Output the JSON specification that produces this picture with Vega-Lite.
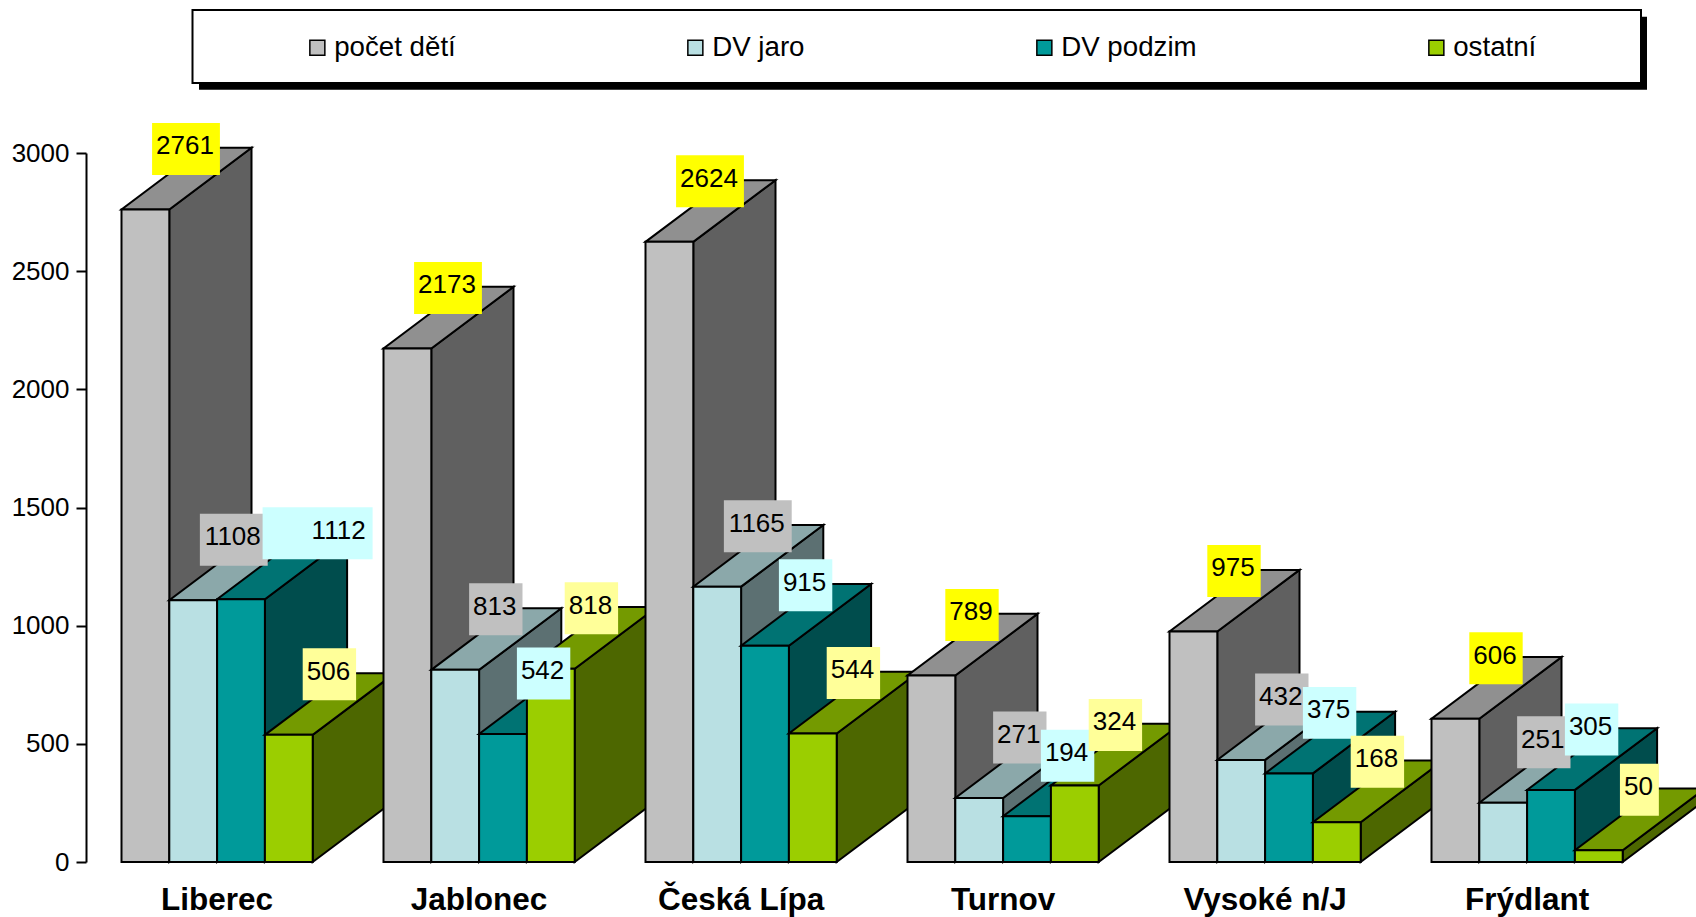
{
"$schema":"https://vega.github.io/schema/vega-lite/v6.json",
"width":1610,"height":709,
"autosize":{"type":"none"},
"padding":{"left":86,"top":153,"right":0,"bottom":55},
"background":"white",
"config":{"view":{"stroke":null},"font":"Liberation Sans"},
"data":{"values":[
{"city":"Liberec","series":"počet dětí","value":2761,"label":2761},
{"city":"Liberec","series":"DV jaro","value":1108,"label":1108},
{"city":"Liberec","series":"DV podzim","value":1112,"label":1112},
{"city":"Liberec","series":"ostatní","value":538,"label":506},
{"city":"Jablonec","series":"počet dětí","value":2173,"label":2173},
{"city":"Jablonec","series":"DV jaro","value":813,"label":813},
{"city":"Jablonec","series":"DV podzim","value":542,"label":542},
{"city":"Jablonec","series":"ostatní","value":818,"label":818},
{"city":"Česká Lípa","series":"počet dětí","value":2624,"label":2624},
{"city":"Česká Lípa","series":"DV jaro","value":1165,"label":1165},
{"city":"Česká Lípa","series":"DV podzim","value":915,"label":915},
{"city":"Česká Lípa","series":"ostatní","value":544,"label":544},
{"city":"Turnov","series":"počet dětí","value":789,"label":789},
{"city":"Turnov","series":"DV jaro","value":271,"label":271},
{"city":"Turnov","series":"DV podzim","value":194,"label":194},
{"city":"Turnov","series":"ostatní","value":324,"label":324},
{"city":"Vysoké n/J","series":"počet dětí","value":975,"label":975},
{"city":"Vysoké n/J","series":"DV jaro","value":432,"label":432},
{"city":"Vysoké n/J","series":"DV podzim","value":375,"label":375},
{"city":"Vysoké n/J","series":"ostatní","value":168,"label":168},
{"city":"Frýdlant","series":"počet dětí","value":606,"label":606},
{"city":"Frýdlant","series":"DV jaro","value":251,"label":251},
{"city":"Frýdlant","series":"DV podzim","value":305,"label":305},
{"city":"Frýdlant","series":"ostatní","value":50,"label":50}
]},
"transform":[
{"calculate":"indexof(['Liberec','Jablonec','Česká Lípa','Turnov','Vysoké n/J','Frýdlant'],datum.city)","as":"ci"},
{"calculate":"indexof(['počet dětí','DV jaro','DV podzim','ostatní'],datum.series)","as":"si"},
{"calculate":"35.5+datum.ci*262+datum.si*47.8","as":"x0"}
],
"encoding":{},
"layer":[
{"data":{"values":[{}]},"transform":[],"mark":{"type":"rect","fill":"black"},
 "encoding":{"x":{"datum":113,"type":"quantitative","scale":{"domain":[0,1610],"nice":false,"zero":false},"axis":null},"x2":{"datum":1561},"y":{"datum":3577,"type":"quantitative","scale":{"domain":[0,3000],"nice":false},
 "axis":{"values":[0,500,1000,1500,2000,2500,3000],"format":"d","title":null,"grid":false,"tickSize":10,"tickWidth":2,"tickColor":"black","domainColor":"black","domainWidth":2,"labelFont":"Liberation Sans","labelFontSize":26,"labelColor":"black","labelPadding":7}},"y2":{"datum":3268}}},
{"data":{"values":[{}]},"transform":[],"mark":{"type":"rect","fill":"white","stroke":"black","strokeWidth":2},
 "encoding":{"x":{"datum":106.5,"type":"quantitative"},"x2":{"datum":1555},"y":{"datum":3605,"type":"quantitative"},"y2":{"datum":3296}}},
{"transform":[
 {"calculate":"['side','top','front']","as":"face"},{"flatten":["face"]},
 {"calculate":"[0,1,2,3]","as":"corner"},{"flatten":["corner"]},
 {"calculate":"datum.x0+47.8","as":"x1"},
 {"calculate":"datum.face=='front'?[datum.x0,datum.x1,datum.x1,datum.x0][datum.corner]:datum.face=='side'?[datum.x1,datum.x1+82.2,datum.x1+82.2,datum.x1][datum.corner]:[datum.x0,datum.x1,datum.x1+82.2,datum.x0+82.2][datum.corner]","as":"px"},
 {"calculate":"datum.face=='front'?[0,0,datum.value,datum.value][datum.corner]:datum.face=='side'?[0,261,datum.value+261,datum.value][datum.corner]:[datum.value,datum.value,datum.value+261,datum.value+261][datum.corner]","as":"py"},
 {"calculate":"datum.face=='front'?datum.series:datum.series+' '+datum.face","as":"shade"},
 {"calculate":"datum.city+'|'+datum.series+'|'+datum.face","as":"poly"}
 ],
 "mark":{"type":"line","filled":true,"interpolate":"linear-closed","stroke":"black","strokeWidth":2,"strokeJoin":"miter"},
 "encoding":{
  "x":{"field":"px","type":"quantitative"},
  "y":{"field":"py","type":"quantitative"},
  "detail":{"field":"poly"},
  "order":{"field":"corner","type":"quantitative"},
  "fill":{"field":"shade","type":"nominal",
   "scale":{"domain":["počet dětí","DV jaro","DV podzim","ostatní","počet dětí top","DV jaro top","DV podzim top","ostatní top","počet dětí side","DV jaro side","DV podzim side","ostatní side"],
    "range":["#C0C0C0","#B9E0E3","#009A9A","#9BCE00","#909090","#8BA8AA","#007373","#749A00","#606060","#5C7072","#004D4D","#4D6700"]},
   "legend":{"values":["počet dětí","DV jaro","DV podzim","ostatní"],"orient":"none","legendX":217.5,"legendY":-119,"direction":"horizontal","columns":4,"gridAlign":"none","columnPadding":225,"title":null,"symbolType":"square","symbolSize":225,"symbolStrokeColor":"black","symbolStrokeWidth":1.5,"labelFont":"Liberation Sans","labelFontSize":27.7,"labelColor":"black","labelOffset":3,"labelLimit":300,"padding":0}}
 }},
{"transform":[{"calculate":"length(''+datum.label)*14.46+10","as":"bw"},
 {"calculate":"datum.x0+64.5+(datum.label==1112?36:0)-(datum.label==1112?55:datum.bw/2)","as":"bx0"},
 {"calculate":"datum.x0+64.5+(datum.label==1112?36:0)+(datum.label==1112?55:datum.bw/2)","as":"bx1"},
 {"calculate":"datum.value+256+(datum.label==1112?23:0)+110","as":"by1"},{"calculate":"datum.value+256+(datum.label==1112?23:0)-110","as":"by0"}],
 "mark":{"type":"rect"},
 "encoding":{"x":{"field":"bx0","type":"quantitative"},"x2":{"field":"bx1"},"y":{"field":"by0","type":"quantitative"},"y2":{"field":"by1"},
  "fill":{"field":"series","type":"nominal","scale":{"domain":["počet dětí","DV jaro","DV podzim","ostatní"],"range":["#FFFF00","#C0C0C0","#CCFFFF","#FFFF99"]},"legend":null}}},
{"transform":[{"calculate":"datum.x0+63.5+(datum.label==1112?58:0)","as":"tx"},{"calculate":"datum.value+267+(datum.label==1112?23:0)","as":"ty"}],
 "mark":{"type":"text","font":"Liberation Sans","fontSize":26,"color":"black","baseline":"middle","align":"center"},
 "encoding":{"x":{"field":"tx","type":"quantitative"},"y":{"field":"ty","type":"quantitative"},"text":{"field":"label","type":"nominal"}}},
{"transform":[{"filter":"datum.si==0"},{"calculate":"datum.x0+95.6","as":"cx"}],
 "mark":{"type":"text","font":"Liberation Sans","fontWeight":"bold","fontSize":31.5,"color":"black","baseline":"middle","align":"center","dy":39},
 "encoding":{"x":{"field":"cx","type":"quantitative"},"y":{"datum":0,"type":"quantitative"},"text":{"field":"city","type":"nominal"}}}
],
"resolve":{"scale":{"fill":"independent"}}
}
